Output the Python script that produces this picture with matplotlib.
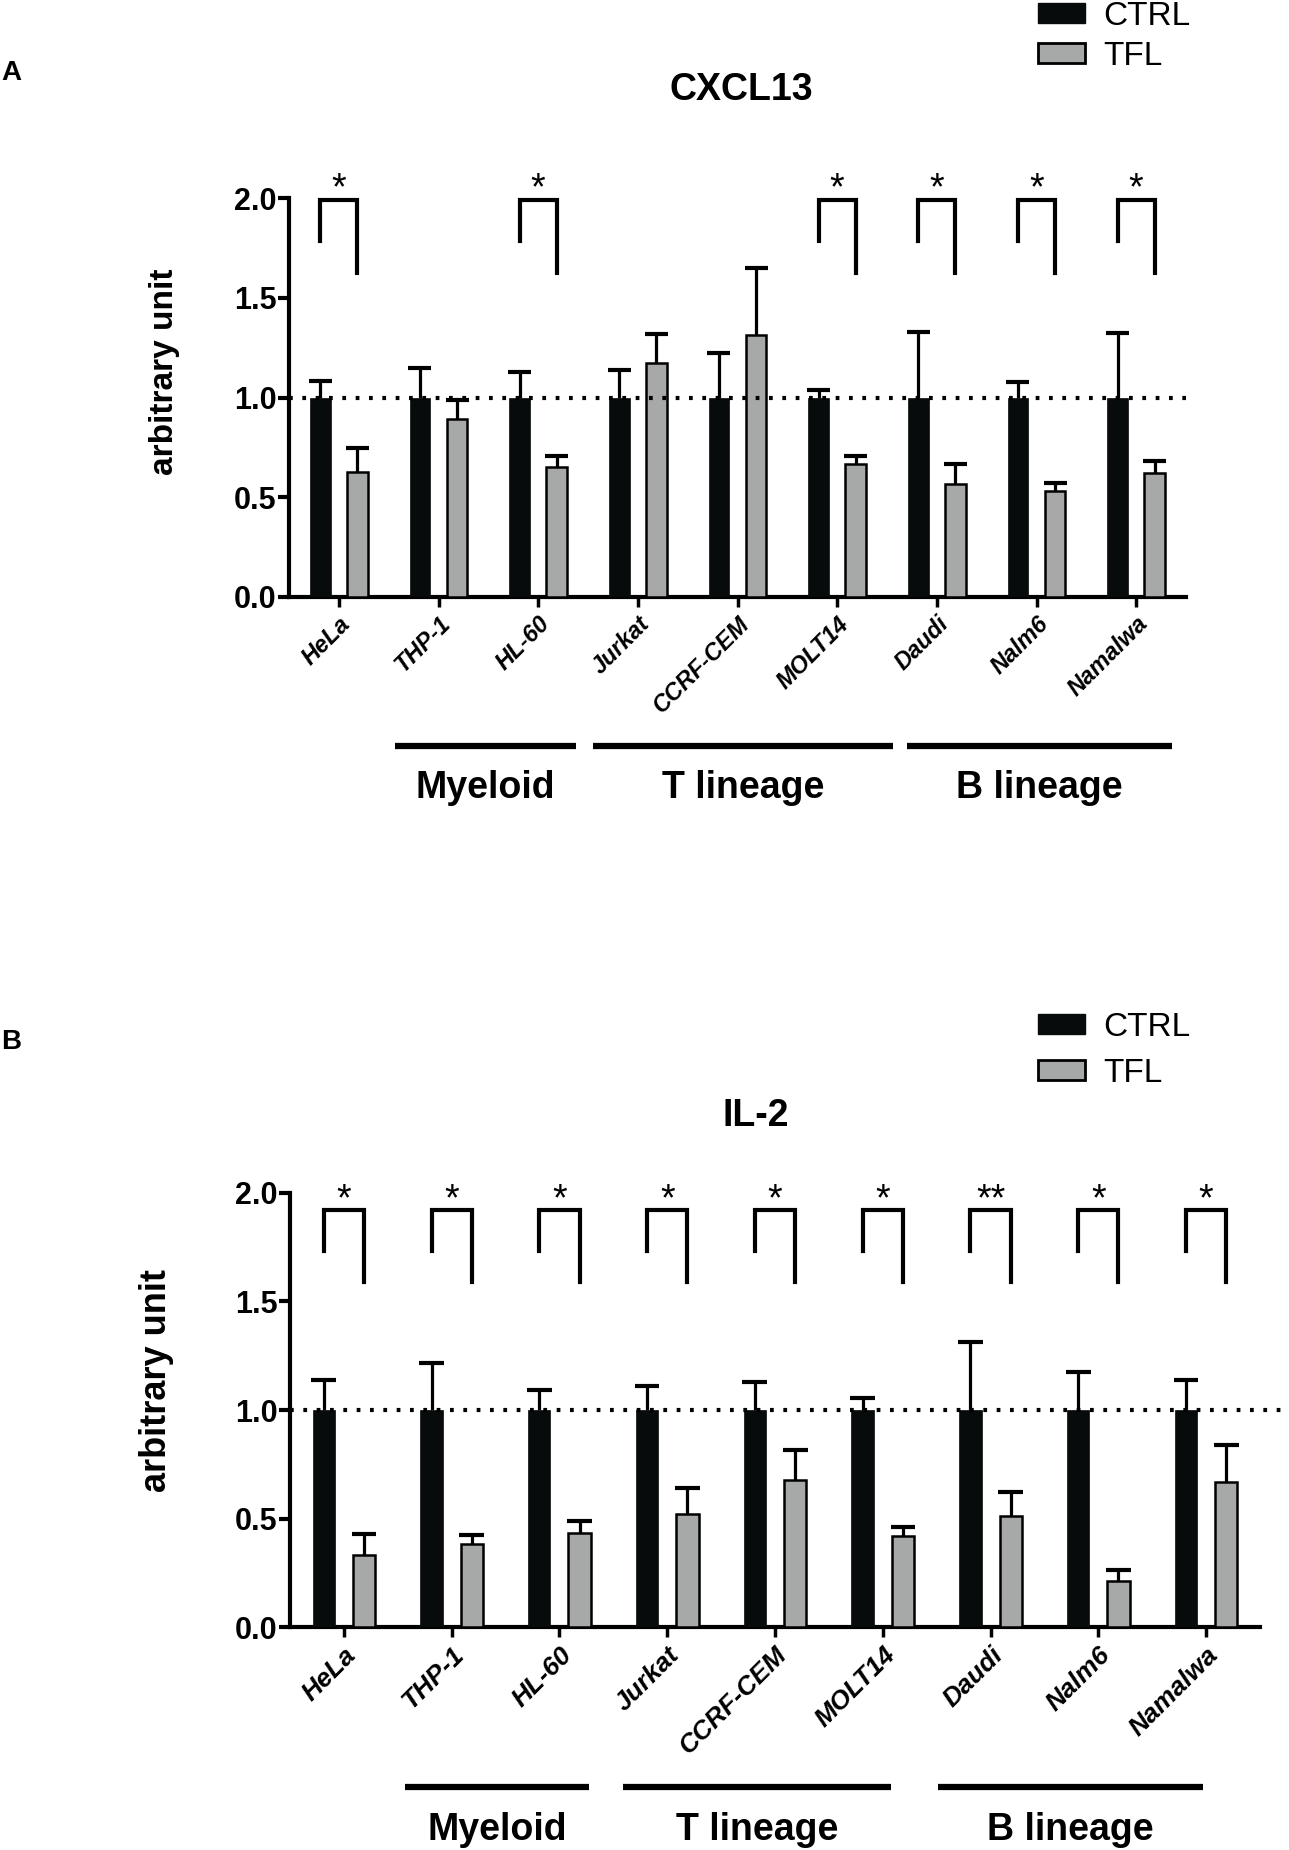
import matplotlib
matplotlib.use("Agg")
import matplotlib.pyplot as plt
from matplotlib.patches import Patch
import numpy as np

plt.rcParams['font.family'] = ['Liberation Sans', 'DejaVu Sans']

cell_lines = ["HeLa", "THP-1", "HL-60", "Jurkat", "CCRF-CEM", "MOLT14", "Daudi", "Nalm6", "Namalwa"]
lineages = ["Myeloid", "T lineage", "B lineage"]

# CXCL13 (panel A)
cxcl13_ctrl = [1.0, 1.0, 1.0, 1.0, 1.0, 1.0, 1.0, 1.0, 1.0]
cxcl13_ctrl_err = [0.084, 0.148, 0.13, 0.137, 0.223, 0.04, 0.327, 0.08, 0.322]
cxcl13_tfl = [0.628, 0.891, 0.652, 1.175, 1.315, 0.665, 0.565, 0.532, 0.623]
cxcl13_tfl_err = [0.119, 0.096, 0.056, 0.145, 0.332, 0.043, 0.102, 0.038, 0.059]
cxcl13_sig = ["*", "", "*", "", "", "*", "*", "*", "*"]

# IL-2 (panel B)
il2_ctrl = [1.0, 1.0, 1.0, 1.0, 1.0, 1.0, 1.0, 1.0, 1.0]
il2_ctrl_err = [0.138, 0.216, 0.09, 0.112, 0.13, 0.054, 0.314, 0.173, 0.137]
il2_tfl = [0.333, 0.383, 0.434, 0.52, 0.676, 0.419, 0.512, 0.215, 0.67]
il2_tfl_err = [0.097, 0.043, 0.054, 0.12, 0.14, 0.044, 0.111, 0.05, 0.169]
il2_sig = ["*", "*", "*", "*", "*", "*", "**", "*", "*"]

CTRL_COLOR = "#070b0b"
TFL_COLOR = "#a7a9a8"
W, H = 1289, 1850

fig = plt.figure(figsize=(W / 100, H / 100), dpi=100)


def draw_panel(rect, ctrl, ctrl_err, tfl, tfl_err, sig, xlab_size, ylab_size, bracket, star_y,
               group_spans, line_y, label_y, dotted_end, ylabel_pos):
    ax = fig.add_axes(rect)
    x = np.arange(len(cell_lines))
    off, bw = 0.187, 0.207
    ax.bar(x - off, ctrl, bw, color=CTRL_COLOR, edgecolor=CTRL_COLOR, linewidth=0.5, zorder=3)
    ax.bar(x + off, tfl, bw, color=TFL_COLOR, edgecolor="black", linewidth=1.8, zorder=3)

    # one-sided error bars
    for pos, mean, err in [(x - off, ctrl, ctrl_err), (x + off, tfl, tfl_err)]:
        top = np.array(mean) + np.array(err)
        ax.vlines(pos, mean, top, color="black", linewidth=2.3, zorder=2)
        ax.hlines(top, pos - 0.115, pos + 0.115, color="black", linewidth=3, zorder=2)

    ax.plot([-0.5, dotted_end], [1, 1], color="black", linestyle=(0, (0.9, 2.3)),
            linewidth=3, clip_on=False, zorder=4)

    b_top, b_left, b_right = bracket
    for i, s in enumerate(sig):
        if not s:
            continue
        ax.plot([i - off, i - off, i + off, i + off], [b_left, b_top, b_top, b_right],
                color="black", linewidth=3, clip_on=False, solid_joinstyle="miter")
        ax.text(i, star_y, s, ha="center", va="baseline", fontsize=27, clip_on=False)

    ax.set_xlim(-0.5, 8.5)
    ax.set_ylim(0, 2.0)
    ax.set_yticks([0, 0.5, 1.0, 1.5, 2.0])
    ax.set_yticklabels(["0.0", "0.5", "1.0", "1.5", "2.0"], fontsize=22, fontweight="bold")
    ax.set_xticks(x)
    ax.set_xticklabels(cell_lines, rotation=45, ha="right", rotation_mode="anchor",
                       fontsize=xlab_size, fontweight="bold", fontstyle="italic")
    for side in ["top", "right"]:
        ax.spines[side].set_visible(False)
    for side in ["left", "bottom"]:
        ax.spines[side].set_linewidth(3)
    ax.tick_params(axis="y", length=8, width=3, pad=1)
    ax.tick_params(axis="x", length=7, width=2.5, pad=4)
    ax.set_ylabel("arbitrary unit", fontsize=ylab_size, fontweight="bold")
    ax.yaxis.set_label_coords(*ylabel_pos)

    trans = ax.get_xaxis_transform()
    for name, (x0, x1) in zip(lineages, group_spans):
        ax.plot([x0, x1], [line_y, line_y], color="black", linewidth=4.5,
                transform=trans, clip_on=False, solid_capstyle="butt")
        ax.text((x0 + x1) / 2, label_y, name, transform=trans, ha="center", va="center",
                fontsize=27, fontweight="bold")
    return ax


def add_legend(ax, top_px, spacing):
    handles = [Patch(facecolor=CTRL_COLOR, edgecolor=CTRL_COLOR),
               Patch(facecolor=TFL_COLOR, edgecolor="black", linewidth=2)]
    ax.legend(handles, ["CTRL", "TFL"], loc="upper left",
              bbox_to_anchor=(1038 / W, 1 - top_px / H), bbox_transform=fig.transFigure,
              frameon=False, fontsize=24, handlelength=1.4, handleheight=0.55,
              handletextpad=0.55, labelspacing=spacing, borderpad=0, borderaxespad=0)


ax_a = draw_panel([289 / W, 1 - 597 / H, 897 / W, 399 / H],
                  cxcl13_ctrl, cxcl13_ctrl_err, cxcl13_tfl, cxcl13_tfl_err, cxcl13_sig,
                  xlab_size=17, ylab_size=24, bracket=(1.99, 1.785, 1.625), star_y=1.993,
                  group_spans=[(0.56, 2.38), (2.55, 5.56), (5.70, 8.36)],
                  line_y=-0.373, label_y=-0.478, dotted_end=8.5,
                  ylabel_pos=(-0.121, 0.565))
add_legend(ax_a, 1, 0.26)
fig.text(741 / W, 1 - 90 / H, "CXCL13", ha="center", va="center", fontsize=27, fontweight="bold")
fig.text(1 / W, 1 - 73 / H, "A", ha="left", va="center", fontsize=20, fontweight="bold")

ax_b = draw_panel([290 / W, 1 - 1627.3 / H, 970 / W, 434.6 / H],
                  il2_ctrl, il2_ctrl_err, il2_tfl, il2_tfl_err, il2_sig,
                  xlab_size=19, ylab_size=26, bracket=(1.92, 1.733, 1.587), star_y=1.918,
                  group_spans=[(0.57, 2.27), (2.59, 5.08), (5.51, 7.97)],
                  line_y=-0.367, label_y=-0.466, dotted_end=8.75,
                  ylabel_pos=(-0.12, 0.569))
add_legend(ax_b, 1012, 0.45)
fig.text(756 / W, 1 - 1116 / H, "IL-2", ha="center", va="center", fontsize=27, fontweight="bold")
fig.text(1 / W, 1 - 1042 / H, "B", ha="left", va="center", fontsize=20, fontweight="bold")

fig.savefig("out.png", dpi=100)
